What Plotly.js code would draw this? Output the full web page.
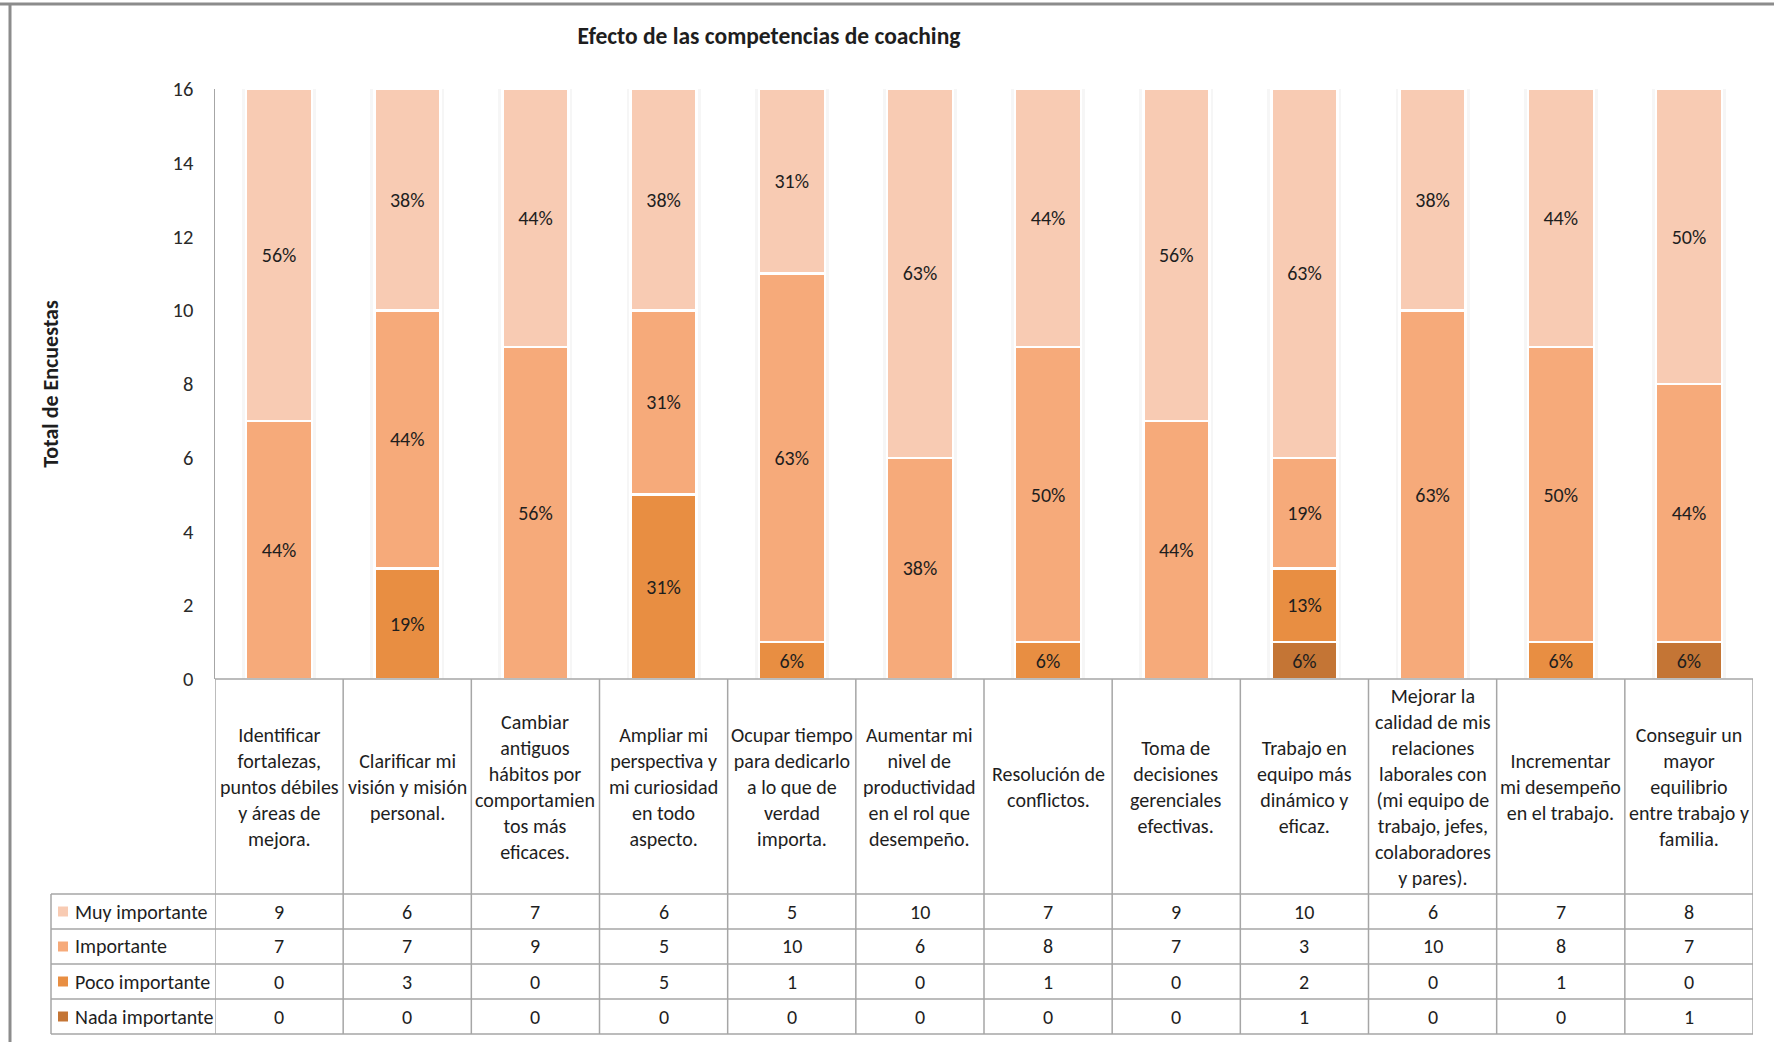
<!DOCTYPE html>
<html>
<head>
<meta charset="utf-8">
<script src="https://cdn.plot.ly/plotly-3.0.1.min.js"></script>
<style>
  html, body { margin: 0; padding: 0; background: #ffffff; }
  #chart { width: 1774px; height: 1042px; }
</style>
</head>
<body>
<div id="chart"></div>
<script>
// ---------------- DATA ----------------
const categories = [
  "Identificar<br>fortalezas,<br>puntos débiles<br>y áreas de<br>mejora.",
  "Clarificar mi<br>visión y misión<br>personal.",
  "Cambiar<br>antiguos<br>hábitos por<br>comportamien<br>tos más<br>eficaces.",
  "Ampliar mi<br>perspectiva y<br>mi curiosidad<br>en todo<br>aspecto.",
  "Ocupar tiempo<br>para dedicarlo<br>a lo que de<br>verdad<br>importa.",
  "Aumentar mi<br>nivel de<br>productividad<br>en el rol que<br>desempeño.",
  "Resolución de<br>conflictos.",
  "Toma de<br>decisiones<br>gerenciales<br>efectivas.",
  "Trabajo en<br>equipo más<br>dinámico y<br>eficaz.",
  "Mejorar la<br>calidad de mis<br>relaciones<br>laborales con<br>(mi equipo de<br>trabajo, jefes,<br>colaboradores<br>y pares).",
  "Incrementar<br>mi desempeño<br>en el trabajo.",
  "Conseguir un<br>mayor<br>equilibrio<br>entre trabajo y<br>familia."
];

const seriesNames = ["Muy importante", "Importante", "Poco importante", "Nada importante"];

const muyImportante  = [9, 6, 7, 6, 5, 10, 7, 9, 10, 6, 7, 8];
const importante     = [7, 7, 9, 5, 10, 6, 8, 7, 3, 10, 8, 7];
const pocoImportante = [0, 3, 0, 5, 1, 0, 1, 0, 2, 0, 1, 0];
const nadaImportante = [0, 0, 0, 0, 0, 0, 0, 0, 1, 0, 0, 1];

const yTickValues = [0, 2, 4, 6, 8, 10, 12, 14, 16];

const chartTitle = "Efecto de las competencias de coaching";
const yAxisTitle = "Total de Encuestas";

// ---------------- STYLE ----------------
const colors = {
  "Muy importante": "#F8CBB3",
  "Importante": "#F6AA7A",
  "Poco importante": "#E88E42",
  "Nada importante": "#C47535"
};
const FONT = "Carlito, Calibri, 'Liberation Sans Narrow', 'Liberation Sans', sans-serif";
const TXT = "#1e1e1e";
const GRID = "#A6A6A6";

const W = 1774, H = 1042;
const plotL = 215, plotR = 1753, plotT = 89, plotB = 679;
const px = v => (v - plotL) / (plotR - plotL);
const py = v => (plotB - v) / (plotB - plotT);
const unitPx = (plotR - plotL) / 12;

const seriesValues = {
  "Muy importante": muyImportante,
  "Importante": importante,
  "Poco importante": pocoImportante,
  "Nada importante": nadaImportante
};

const xIdx = categories.map((c, i) => i);
const totals = xIdx.map(i => seriesNames.reduce((s, n) => s + seriesValues[n][i], 0));

const barW = 0.515;

// soft shadow behind each stacked column (on the base x axis, drawn under the bars)
const shadowTraces = [
  { w: barW + 8 / unitPx, c: "rgba(0,0,0,0.035)" },
  { w: barW + 5 / unitPx, c: "rgba(0,0,0,0.05)" }
].map(s => ({
  type: "bar", x: xIdx, y: totals, width: s.w, xaxis: "x", yaxis: "y",
  marker: { color: s.c, line: { width: 0 } }, hoverinfo: "skip", showlegend: false
}));

// stacking: bottom first
const stackOrder = ["Nada importante", "Poco importante", "Importante", "Muy importante"];
const traces = stackOrder.map(name => {
  const vals = seriesValues[name];
  return {
    type: "bar",
    name: name,
    x: xIdx,
    y: vals,
    width: barW,
    xaxis: "x2", yaxis: "y",
    marker: { color: colors[name], line: { color: "#ffffff", width: 2.5 } },
    text: vals.map((v, i) => v > 0 ? Math.round(v / totals[i] * 100) + "%" : ""),
    textposition: "inside",
    insidetextanchor: "middle",
    textangle: 0,
    constraintext: "none",
    textfont: { family: FONT, size: 20, color: TXT },
    hoverinfo: "skip",
    showlegend: false
  };
});

// ---------------- TABLE (shapes + annotations) ----------------
const shapes = [];
const annotations = [];

const rowEdges = [894, 929, 964, 999, 1034];
const legendLeft = 51;

shapes.push({ type: "line", xref: "paper", yref: "paper", x0: 0, x1: 1, y0: 0, y1: 0,
  line: { color: GRID, width: 1.5 } });
rowEdges.forEach(r => {
  shapes.push({ type: "line", xref: "paper", yref: "paper", x0: px(legendLeft), x1: 1, y0: py(r), y1: py(r),
    line: { color: GRID, width: 1.5 } });
});
for (let i = 0; i <= categories.length; i++) {
  shapes.push({ type: "line", xref: "x", yref: "paper", x0: i - 0.5, x1: i - 0.5, y0: 0, y1: py(rowEdges[rowEdges.length - 1]),
    line: { color: GRID, width: 1.5 } });
}
shapes.push({ type: "line", xref: "paper", yref: "paper", x0: px(legendLeft), x1: px(legendLeft),
  y0: py(rowEdges[0]), y1: py(rowEdges[rowEdges.length - 1]), line: { color: GRID, width: 1.5 } });

xIdx.forEach(i => {
  annotations.push({ xref: "x", yref: "paper", x: i, y: py((plotB + rowEdges[0]) / 2),
    text: categories[i], showarrow: false, xanchor: "center", yanchor: "middle", align: "center",
    font: { family: FONT, size: 20, color: TXT } });
});

seriesNames.forEach((name, r) => {
  const yc = py((rowEdges[r] + rowEdges[r + 1]) / 2);
  shapes.push({ type: "rect", xref: "paper", yref: "paper",
    x0: px(58), x1: px(68), y0: yc - 5 / 590, y1: yc + 5 / 590,
    fillcolor: colors[name], line: { width: 0 } });
  annotations.push({ xref: "paper", yref: "paper", x: px(73), y: yc, text: name, showarrow: false,
    xanchor: "left", yanchor: "middle", font: { family: FONT, size: 20, color: TXT } });
  seriesValues[name].forEach((v, i) => {
    annotations.push({ xref: "x", yref: "paper", x: i, y: yc, text: String(v), showarrow: false,
      xanchor: "center", yanchor: "middle", font: { family: FONT, size: 20, color: TXT } });
  });
});

// outer frame (left and top)
shapes.push({ type: "line", xref: "paper", yref: "paper", x0: px(10), x1: px(10), y0: py(4), y1: py(H),
  line: { color: "#8c8c8c", width: 3 } });
shapes.push({ type: "line", xref: "paper", yref: "paper", x0: px(0), x1: px(W), y0: py(4), y1: py(4),
  line: { color: "#8c8c8c", width: 3 } });

const xRange = [-0.5, categories.length - 0.5];
const layout = {
  width: W, height: H,
  paper_bgcolor: "#ffffff", plot_bgcolor: "#ffffff",
  margin: { l: plotL, r: W - plotR, t: plotT, b: H - plotB, pad: 0 },
  barmode: "stack",
  showlegend: false,
  font: { family: FONT, color: TXT },
  title: {
    text: "<b>" + chartTitle + "</b>",
    font: { family: FONT, size: 23.5, color: TXT },
    xref: "container", yref: "container", x: 769 / W, y: 1 - 36 / H,
    xanchor: "center", yanchor: "middle"
  },
  xaxis: {
    range: xRange,
    showticklabels: false, showgrid: false, zeroline: false, showline: false, ticks: "",
    fixedrange: true
  },
  xaxis2: {
    range: xRange, overlaying: "x",
    showticklabels: false, showgrid: false, zeroline: false, showline: false, ticks: "",
    fixedrange: true
  },
  yaxis: {
    range: [0, 16],
    tickvals: yTickValues,
    showgrid: false, zeroline: false,
    showline: true, linecolor: GRID, linewidth: 1.5,
    ticks: "", ticklabelstandoff: 16,
    tickfont: { family: FONT, size: 20.5, color: "#2a2a2a" },
    title: { text: "<b>" + yAxisTitle + "</b>", font: { family: FONT, size: 22, color: TXT }, standoff: 108 },
    automargin: false,
    fixedrange: true
  },
  shapes: shapes,
  annotations: annotations
};

Plotly.newPlot("chart", shadowTraces.concat(traces), layout, { displayModeBar: false, staticPlot: true });
</script>
</body>
</html>
